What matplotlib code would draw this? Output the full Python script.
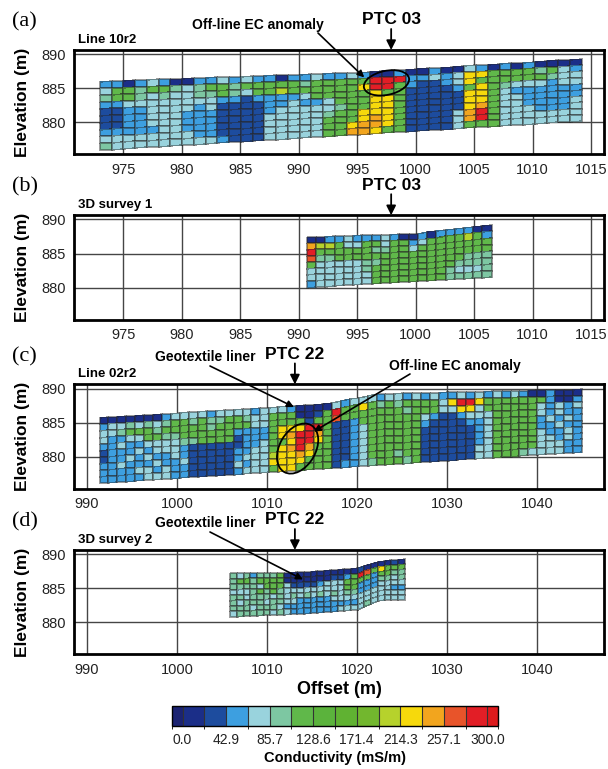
import matplotlib
matplotlib.use('Agg')
import matplotlib.pyplot as plt
import numpy as np
from matplotlib.colors import ListedColormap, BoundaryNorm
from matplotlib.cm import ScalarMappable
from matplotlib.patches import Ellipse
from matplotlib.transforms import ScaledTranslation

plt.rcParams['font.family'] = ['Liberation Sans', 'DejaVu Sans']

W, H = 608, 769

# conductivity classes (mS/m)
bounds = [-10.7, 0.0, 21.4, 42.9, 64.3, 85.7, 107.1, 128.6, 150.0, 171.4,
          192.9, 214.3, 235.7, 257.1, 278.6, 300.0, 310.7]
class_colors = ['#1b2372', '#1b2e88', '#1d4c9e', '#3d9fe0', '#99d3dd', '#7dc7a2',
                '#60b84a', '#5bb33c', '#60b232', '#72b72e', '#b6d22c', '#f6d90c',
                '#f2a51e', '#e8542a', '#e21e26', '#dc1a1c']
cbar_ticks = [0.0, 42.9, 85.7, 128.6, 171.4, 214.3, 257.1, 300.0]
codes = '0123456789abcdef'

# section (a) Line 10r2, offsets 973-1014 m, one char = class index
sec_a = [
    "3313431133" "4343313343" "3431131131" "14313131111",
    "4665665456" "6566666566" "666eee3343" "4bb66665643",
    "5665454455" "65466a6666" "66bee63223" "4b666666544",
    "3344444444" "3323333466" "666b662222" "36b65444344",
    "2233444434" "2222334334" "666bb62222" "2bb64333333",
    "2233444333" "2222344444" "566bb62222" "2bb64433333",
    "2233444333" "2222444445" "66bbb62222" "2bc64433334",
    "3333344333" "2222444446" "66bcb62222" "4ce64443334",
    "4444444433" "2222444446" "6bccb62222" "4ce64444444",
    "5444444444" "3222444446" "6ccb662222" "46664444444",
]
a_x = [973.0, 1014.2]
a_top_x = [973.0, 995.0, 1014.2]
a_top_z = [886.0, 887.3, 889.3]
a_bot_x = [973.0, 1014.2]
a_bot_z = [875.9, 880.2]

# section (b) 3D survey 1
sec_b = [
    "1133433343" "1131333311",
    "caa6446646" "6346666a63",
    "e666666556" "6466666666",
    "d556666666" "6666666666",
    "6444445566" "6666666555",
    "4444445666" "6666665555",
    "4444444666" "6666654445",
    "3444444666" "6666655555",
]
b_x = [990.7, 1006.5]
b_top_x = [990.7, 1000.0, 1006.5]
b_top_z = [887.4, 887.9, 889.2]
b_bot_x = [990.7, 1006.5]
b_bot_z = [880.0, 881.5]

# section (c) Line 02r2
sec_c = [
    "11" "11111" "344" "44344" "4434" "4431111" "43" "44" "434434" "343343" "4" "34343" "113111",
    "34" "45454" "566" "56556" "6544" "6661126" "e6" "6b" "656566" "664bee" "b" "66666" "663113",
    "44" "56665" "666" "66566" "6644" "6666266" "d6" "66" "666656" "6644bb" "4" "66666" "643434",
    "43" "34466" "556" "66666" "3333" "6bbbee6" "22" "36" "666666" "432234" "4" "46666" "643433",
    "33" "43344" "445" "56666" "2333" "6bceec6" "22" "34" "666666" "322223" "3" "46666" "634343",
    "23" "33434" "443" "22222" "2334" "66beeb6" "22" "34" "666666" "222222" "3" "46666" "633433",
    "23" "34343" "343" "22222" "3344" "6bcec66" "22" "34" "666666" "222222" "3" "46666" "643343",
    "33" "43334" "334" "22222" "3444" "abbcb66" "22" "34" "666666" "222222" "3" "46666" "644343",
    "33" "33443" "433" "22222" "4344" "bbbb666" "22" "34" "666566" "222222" "4" "46666" "644433",
    "33" "33344" "433" "22222" "3444" "6bb6666" "23" "34" "566656" "222222" "4" "46665" "444433",
]
c_x = [991.4, 1045.0]
c_top_x = [991.4, 1010.0, 1017.0, 1022.0, 1045.0]
c_top_z = [885.7, 887.2, 887.8, 889.2, 889.9]
c_bot_x = [991.4, 1045.0]
c_bot_z = [876.1, 880.7]

# section (d) 3D survey 2
sec_d = [
    "54535556" "111111111112111121",
    "56656666" "1111111" "223" "6" "ed" "6b" "666",
    "55554666" "4222" "2344" "466" "66" "3" "66" "55",
    "44456565" "444444444" "66" "333" "5545",
    "55455545" "454545454" "55" "333" "4444",
    "54555455" "443333344" "44" "444" "4433",
    "55545554" "333333333" "33" "444" "4444",
    "45555545" "433333334" "44" "454" "4444",
]
d_x = [1005.9, 1025.3]
d_top_x = [1005.9, 1013.0, 1020.0, 1022.5, 1025.3]
d_top_z = [887.2, 887.3, 887.9, 889.0, 889.3]
d_bot_x = [1005.9, 1013.0, 1020.0, 1022.5, 1025.3]
d_bot_z = [880.8, 881.2, 881.8, 883.2, 883.3]

cmap = ListedColormap(class_colors)
norm = BoundaryNorm(bounds, cmap.N)
class_mid = [(bounds[k] + bounds[k + 1]) / 2 for k in range(len(class_colors))]


def fx(px):
    return px / W


def fy(py):
    return 1 - py / H


def rect(top, bottom, left=74, right=604):
    return [left / W, 1 - bottom / H, (right - left) / W, (bottom - top) / H]


def draw_section(ax, grid, xr, top_x, top_z, bot_x, bot_z):
    nr, nc = len(grid), len(grid[0])
    xe = np.linspace(xr[0], xr[1], nc + 1)
    zt = np.interp(xe, top_x, top_z)
    zb = np.interp(xe, bot_x, bot_z)
    f = np.linspace(0, 1, nr + 1)[:, None]
    X = np.tile(xe, (nr + 1, 1))
    Y = zt - f * (zt - zb)
    C = np.array([[class_mid[codes.index(ch)] for ch in row] for row in grid])
    ax.pcolormesh(X, Y, C, cmap=cmap, norm=norm, shading='flat',
                  edgecolors=(0.15, 0.15, 0.15, 0.45), linewidth=0.3)


def setup(ax, xlim, xticks):
    ax.set_xlim(xlim)
    ax.set_ylim(875.3, 890.63)
    ax.set_xticks(xticks)
    ax.set_yticks([880, 885, 890])
    ax.set_axisbelow(True)
    ax.grid(True, color='#454545', linewidth=1.0)
    ax.tick_params(length=0, pad=6, labelsize=10.5, labelcolor='#222222')
    for s in ax.spines.values():
        s.set_linewidth(2.0)
    ax.set_ylabel('Elevation (m)', fontsize=12.5, fontweight='bold')
    ax.yaxis.set_label_coords(-0.083, 0.5)


def arrow(ax, xy, start_px, head=12, lw=1.2, coords='data'):
    ax.annotate('', xy=xy, xycoords=coords,
                xytext=(start_px[0], H - start_px[1]), textcoords='figure pixels',
                arrowprops=dict(arrowstyle='-|>', color='black', lw=lw,
                                mutation_scale=head, shrinkA=0, shrinkB=0),
                annotation_clip=False)


def ellipse(ax, center, w, h, ang):
    tr = fig.dpi_scale_trans + ScaledTranslation(center[0], center[1], ax.transData)
    ax.add_patch(Ellipse((0, 0), w / 100, h / 100, angle=ang, transform=tr,
                         fill=False, edgecolor='black', linewidth=1.3,
                         clip_on=False, zorder=5))


fig = plt.figure(figsize=(W / 100, H / 100), dpi=100)
fig.patch.set_facecolor('white')

tops = [50, 215.2, 384.4, 550]
axes = [fig.add_axes(rect(t, t + 104.3)) for t in tops]
ax_a, ax_b, ax_c, ax_d = axes

xt_ab = list(range(975, 1016, 5))
xt_cd = list(range(990, 1041, 10))
setup(ax_a, (970.78, 1016.1), xt_ab)
setup(ax_b, (970.78, 1016.1), xt_ab)
setup(ax_c, (988.56, 1047.44), xt_cd)
setup(ax_d, (988.56, 1047.44), xt_cd)

draw_section(ax_a, sec_a, a_x, a_top_x, a_top_z, a_bot_x, a_bot_z)
draw_section(ax_b, sec_b, b_x, b_top_x, b_top_z, b_bot_x, b_bot_z)
draw_section(ax_c, sec_c, c_x, c_top_x, c_top_z, c_bot_x, c_bot_z)
draw_section(ax_d, sec_d, d_x, d_top_x, d_top_z, d_bot_x, d_bot_z)

ax_d.set_xlabel('Offset (m)', fontsize=13, fontweight='bold', labelpad=3)

# panel letters and section names
for lab, t, name in zip(['(a)', '(b)', '(c)', '(d)'], tops,
                        ['Line 10r2', '3D survey 1', 'Line 02r2', '3D survey 2']):
    fig.text(fx(12), fy(t - 28), lab, family=['Liberation Serif', 'DejaVu Serif'],
             fontsize=16, ha='left', va='center')
    fig.text(fx(78), fy(t - 10), name, fontsize=9.5, fontweight='bold',
             ha='left', va='center')

# PTC markers
ptc = [(ax_a, 'PTC 03', 997.9), (ax_b, 'PTC 03', 997.9),
       (ax_c, 'PTC 22', 1013.1), (ax_d, 'PTC 22', 1013.1)]
for (ax, lab, xo), t in zip(ptc, tops):
    px = ax.transData.transform((xo, 885))[0]
    fig.text(fx(px), fy(t - 30), lab, fontsize=12.5, fontweight='bold',
             ha='center', va='center')
    arrow(ax, (xo, 1.0), (px, t - 21), head=14, lw=1.3, coords=('data', 'axes fraction'))

# annotations
fig.text(fx(258), fy(25), 'Off-line EC anomaly', fontsize=10, fontweight='bold',
         ha='center', va='center')
arrow(ax_a, (995.6, 886.6), (318, 33), head=10)
ellipse(ax_a, (997.5, 885.8), 46, 24, 12)

fig.text(fx(205), fy(357), 'Geotextile liner', fontsize=10, fontweight='bold',
         ha='center', va='center')
arrow(ax_c, (1013.0, 887.3), (210, 366), head=10)
fig.text(fx(455), fy(366), 'Off-line EC anomaly', fontsize=10, fontweight='bold',
         ha='center', va='center')
arrow(ax_c, (1015.2, 883.7), (410, 374), head=10)
ellipse(ax_c, (1013.4, 881.2), 54, 36, 60)

fig.text(fx(205), fy(523), 'Geotextile liner', fontsize=10, fontweight='bold',
         ha='center', va='center')
arrow(ax_d, (1014.0, 886.3), (210, 532), head=10)

# colour scale
cax = fig.add_axes([fx(171.7), fy(726), (498.3 - 171.7) / W, 20 / H])
cb = fig.colorbar(ScalarMappable(norm=norm, cmap=cmap), cax=cax, orientation='horizontal',
                  boundaries=bounds, ticks=cbar_ticks, spacing='proportional',
                  drawedges=True)
cb.set_ticklabels([f'{v:.1f}' for v in cbar_ticks])
cb.ax.tick_params(length=0, labelsize=10, pad=5, labelcolor='#222222')
cb.outline.set_linewidth(1.0)
cb.dividers.set_color('#333333')
cb.dividers.set_linewidth(0.8)
fig.text(fx(335), fy(758), 'Conductivity (mS/m)', fontsize=10.5, fontweight='bold',
         ha='center', va='center')

fig.savefig('out.png', dpi=100, facecolor='white')
